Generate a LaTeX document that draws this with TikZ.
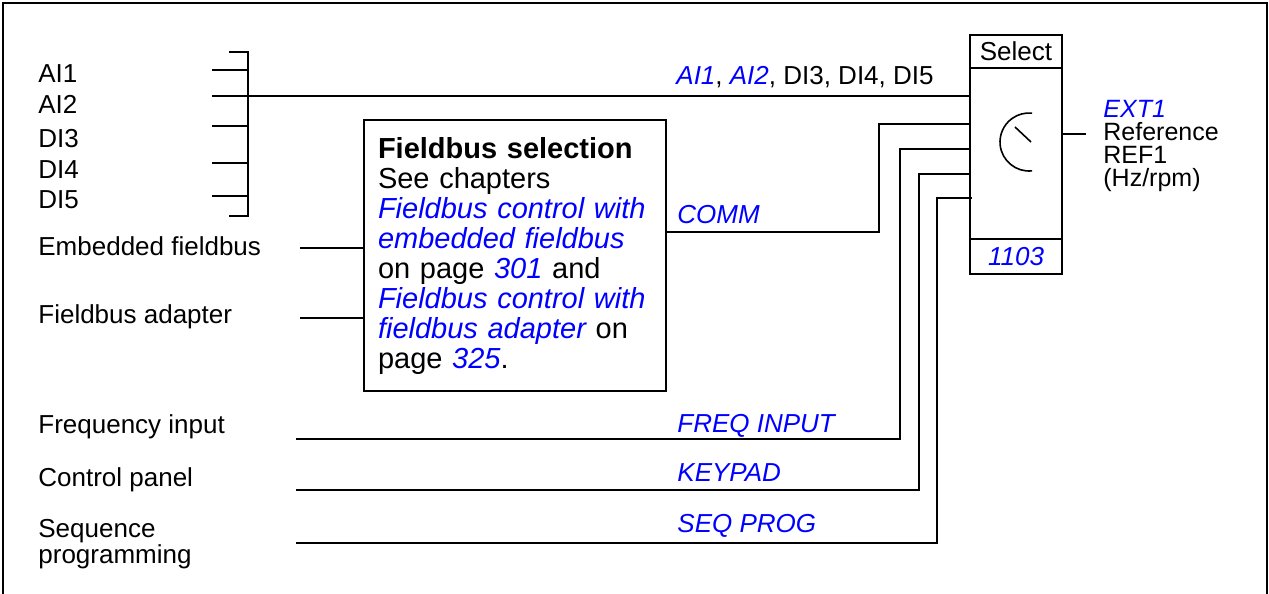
\documentclass[tikz,border=0pt]{standalone}
\usepackage{fontspec}
\setmainfont{Liberation Sans}
\usepackage{tikz}
\definecolor{linkblue}{RGB}{0,0,255}

\begin{document}
\begin{tikzpicture}[x=0.5pt,y=0.5pt,yscale=-1,xscale=1,
  lbl/.style={anchor=base west,inner sep=0pt,font=\fontsize{13}{15}\selectfont},
  sig/.style={lbl,text=linkblue,font=\fontsize{13}{15}\selectfont\itshape},
  wire/.style={line width=1pt},
  blk/.style={draw,line width=1pt,inner sep=0pt,font=\fontsize{13}{15}\selectfont}]
\path [use as bounding box] (0,0) rectangle (1269,594);

%Shape: Frame
\draw [wire] (3,594) -- (3,3) -- (1267,3) -- (1267,594) ;

%Shape: Select block
\node [blk,minimum width=46pt,minimum height=16.5pt] (selhd) at (1016,51.5) {Select};
\node [blk,minimum width=46pt,minimum height=85.5pt] (selbd) at (1016,153.5) {};
\node [blk,minimum width=46pt,minimum height=17.5pt,text=linkblue,font=\fontsize{13}{15}\selectfont\itshape] (selft) at (1016,256.5) {1103};
%Shape: Selector dial
\coordinate (dialc) at (1029,142);
\draw [line width=0.8pt] (dialc) ++(84:14.5pt) arc [start angle=84,end angle=276,radius=14.5pt] ;
\draw [line width=0.8pt] (dialc) ++(2,0) -- ++(-16,-15) ;

%Shape: Fieldbus selection box
\node [blk,anchor=north west,inner xsep=7pt,text width=137pt,minimum height=135.5pt,align=left,font=\fontsize{14.5}{15}\selectfont] (fbsel) at (363,119) {\textbf{Fieldbus selection}\\See chapters\\\textcolor{linkblue}{\itshape Fieldbus control with}\\\textcolor{linkblue}{\itshape embedded fieldbus}\\on page \textcolor{linkblue}{\itshape 301} and\\\textcolor{linkblue}{\itshape Fieldbus control with}\\\textcolor{linkblue}{\itshape fieldbus adapter} on\\page \textcolor{linkblue}{\itshape 325}.};

% Text Node
\node [lbl] (ai1) at (38,82) {AI1};
% Text Node
\node [lbl] (ai2) at (38,113) {AI2};
% Text Node
\node [lbl] (di3) at (38,147) {DI3};
% Text Node
\node [lbl] (di4) at (38,178) {DI4};
% Text Node
\node [lbl] (di5) at (38,208) {DI5};
% Text Node
\node [lbl] (embfb) at (38,255) {Embedded fieldbus};
% Text Node
\node [lbl] (fbadp) at (38,323) {Fieldbus adapter};
% Text Node
\node [lbl] (freqin) at (38,433) {Frequency input};
% Text Node
\node [lbl] (ctrlpan) at (38,486) {Control panel};
% Text Node
\node [lbl,anchor=north west,align=left,font=\fontsize{13}{9}\selectfont] (seqprog) at (38,519) {Sequence\\programming};
% Text Node
\node [anchor=north west,inner sep=0pt,align=left,font=\fontsize{12.5}{11.5}\selectfont] (ref1) at (1103,100) {\textcolor{linkblue}{\itshape EXT1}\\Reference\\REF1\\(Hz/rpm)};

% Text Node
\node [lbl] (aisel) at (676,84) {\textcolor{linkblue}{\itshape AI1}, \textcolor{linkblue}{\itshape AI2}, DI3, DI4, DI5};
% Text Node
\node [sig] (commlbl) at (677,223) {COMM};
% Text Node
\node [sig] (freqlbl) at (677,432) {FREQ INPUT};
% Text Node
\node [sig] (keylbl) at (677,481) {KEYPAD};
% Text Node
\node [sig] (seqlbl) at (677,532) {SEQ PROG};

%Straight Lines: analogue and digital inputs
\coordinate (bar) at (248,96);
\coordinate (brtop) at (229,52);
\coordinate (brbot) at (229,216);
\coordinate (ai1s) at (212,70);
\coordinate (ai2s) at (212,96);
\coordinate (di3s) at (212,126);
\coordinate (di4s) at (212,163);
\coordinate (di5s) at (212,196);
\draw [wire] (brtop) -- (brtop -| bar) -- (brbot -| bar) -- (brbot) ;
\draw [wire] (ai1s) -- (ai1s -| bar) ;
\draw [wire] (ai2s) -- (ai2s -| bar) ;
\draw [wire] (di3s) -- (di3s -| bar) ;
\draw [wire] (di4s) -- (di4s -| bar) ;
\draw [wire] (di5s) -- (di5s -| bar) ;
\draw [wire] (bar) -- (bar -| selbd.west) ;

%Straight Lines: fieldbus inputs
\coordinate (embs) at (300,248);
\coordinate (adps) at (300,318);
\draw [wire] (embs) -- (embs -| fbsel.west) ;
\draw [wire] (adps) -- (adps -| fbsel.west) ;
\coordinate (commy) at (0,232);
\coordinate (commb) at (879,124);
\draw [wire] (fbsel.east |- commy) -| (commb) -- (commb -| selbd.west) ;

%Straight Lines: frequency input, panel, sequence programming
\coordinate (freqs) at (296,439);
\coordinate (freqb) at (900,149);
\draw [wire] (freqs) -| (freqb) -- (freqb -| selbd.west) ;
\coordinate (keys) at (296,490);
\coordinate (keyb) at (919,174);
\draw [wire] (keys) -| (keyb) -- (keyb -| selbd.west) ;
\coordinate (seqs) at (296,543);
\coordinate (seqb) at (937,198);
\draw [wire] (seqs) -| (seqb) -- ([xshift=1.5pt]seqb -| selbd.west) ;

%Straight Lines: output
\coordinate (outy) at (1086,134);
\draw [wire] (selbd.east |- outy) -- (outy) ;
\end{tikzpicture}
\end{document}
